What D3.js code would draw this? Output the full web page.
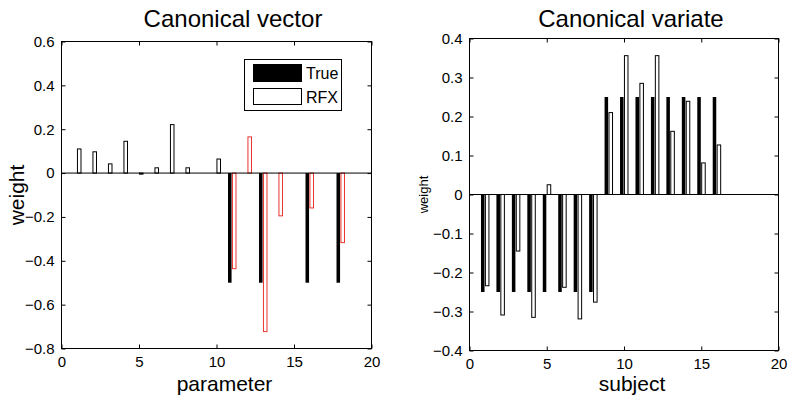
<!DOCTYPE html>
<html>
<head>
<meta charset="utf-8">
<script src="https://cdn.jsdelivr.net/npm/d3@7"></script>
<style>
  html, body { margin: 0; padding: 0; background: #fff; }
  svg { display: block; }
  text { font-family: "Liberation Sans", Arial, Helvetica, sans-serif; fill: #000; }
</style>
</head>
<body>
<svg id="chart" width="792" height="402"></svg>
<script>
// ---------- Data ----------
const parameters = [1,2,3,4,5,6,7,8,9,10,11,12,13,14,15,16,17,18];
const trueVector = [0,0,0,0,0,0,0,0,0,0,-0.5,0,-0.5,0,0,-0.5,0,-0.5];
const rfxVector  = [0.11,0.097,0.042,0.145,-0.005,0.024,0.221,0.024,0,0.064,-0.436,0.165,-0.723,-0.195,0,-0.159,0,-0.317];

const subjects = [1,2,3,4,5,6,7,8,9,10,11,12,13,14,15,16];
const trueVariate = [-0.25,-0.25,-0.25,-0.25,-0.25,-0.25,-0.25,-0.25,0.25,0.25,0.25,0.25,0.25,0.25,0.25,0.25];
const rfxVariate  = [-0.234,-0.309,-0.145,-0.315,0.025,-0.238,-0.319,-0.276,0.21,0.356,0.285,0.356,0.162,0.239,0.081,0.127];

const xTicks = [0,5,10,15,20];
const yTicksLeft = [-0.8,-0.6,-0.4,-0.2,0,0.2,0.4,0.6];
const yTicksRight = [-0.4,-0.3,-0.2,-0.1,0,0.1,0.2,0.3,0.4];
const legendLabels = ["True","RFX"];
const titles = ["Canonical vector","Canonical variate"];
const xLabels = ["parameter","subject"];

// ---------- Drawing ----------
const svg = d3.select("#chart");
const BAR_OFF = 0.143, BAR_W = 0.229, TICK = 4;

function panel(opts) {
  const x = d3.scaleLinear().domain([0,20]).range([opts.x0, opts.x1]);
  const y = d3.scaleLinear().domain(opts.ydom).range([opts.y1, opts.y0]);
  const g = svg.append("g");

  // bars
  const data = opts.cats.map((c,i) => ({c, t: opts.tv[i], r: opts.rv[i]}));
  const bw = x(BAR_W) - x(0);
  g.selectAll("rect.true").data(data.filter(d => d.t !== 0)).join("rect")
    .attr("x", d => x(d.c - BAR_OFF) - bw/2)
    .attr("y", d => y(Math.max(0,d.t)))
    .attr("width", bw)
    .attr("height", d => Math.abs(y(d.t) - y(0)))
    .attr("fill", "#000");
  g.selectAll("rect.rfx").data(data.filter(d => d.r !== 0)).join("rect")
    .attr("x", d => x(d.c + BAR_OFF) - bw/2)
    .attr("y", d => y(Math.max(0,d.r)))
    .attr("width", bw)
    .attr("height", d => Math.max(0.8, Math.abs(y(d.r) - y(0))))
    .attr("fill", "#fff")
    .attr("stroke", d => opts.rfxColor(d))
    .attr("stroke-width", 1);

  // zero line
  g.append("line").attr("x1", opts.x0).attr("x2", opts.x1)
    .attr("y1", y(0)).attr("y2", y(0)).attr("stroke", "#000").attr("stroke-width", 1);

  // axes
  const fmt = d => (d === 0 ? "0" : d3.format("")(+d.toFixed(1)));
  const axB = d3.axisBottom(x).tickValues(xTicks).tickSizeInner(-TICK).tickSizeOuter(0).tickPadding(8);
  const axT = d3.axisTop(x).tickValues(xTicks).tickSizeInner(-TICK).tickSizeOuter(0).tickFormat("");
  const axL = d3.axisLeft(y).tickValues(opts.yticks).tickSizeInner(-TICK).tickSizeOuter(0).tickPadding(7).tickFormat(fmt);
  const axR = d3.axisRight(y).tickValues(opts.yticks).tickSizeInner(-TICK).tickSizeOuter(0).tickFormat("");
  const style = s => { s.select(".domain").remove(); s.selectAll("line").attr("stroke","#000");
    s.selectAll("text").attr("font-size", 15).attr("font-family", '"Liberation Sans", Arial, sans-serif').attr("fill","#000"); };
  g.append("g").attr("transform", `translate(0,${opts.y1})`).call(axB).call(style);
  g.append("g").attr("transform", `translate(0,${opts.y0})`).call(axT).call(style);
  g.append("g").attr("transform", `translate(${opts.x0},0)`).call(axL).call(style);
  g.append("g").attr("transform", `translate(${opts.x1},0)`).call(axR).call(style);

  // frame
  g.append("rect").attr("x", opts.x0).attr("y", opts.y0)
    .attr("width", opts.x1 - opts.x0).attr("height", opts.y1 - opts.y0)
    .attr("fill", "none").attr("stroke", "#000").attr("stroke-width", 1);

  // title & labels
  g.append("text").attr("x", opts.titleX).attr("y", 27).attr("text-anchor","middle")
    .attr("font-size", 24).text(opts.title);
  g.append("text").attr("x", (opts.x0+opts.x1)/2 + 8).attr("y", 391).attr("text-anchor","middle")
    .attr("font-size", 21).text(opts.xlabel);
  g.append("text").attr("transform", `translate(${opts.ylabX},${(opts.y0+opts.y1)/2}) rotate(-90)`)
    .attr("text-anchor","middle").attr("font-size", opts.ylabSize).text("weight");
  return {x, y, g};
}

const left = panel({
  x0: 61.5, x1: 371.5, y0: 41.5, y1: 348.5, ydom: [-0.8, 0.6],
  cats: parameters, tv: trueVector, rv: rfxVector, yticks: yTicksLeft,
  rfxColor: d => d.c > 10 ? "#e8362f" : "#000",
  title: titles[0], titleX: 233, xlabel: xLabels[0], ylabX: 24, ylabSize: 21
});
const right = panel({
  x0: 469.5, x1: 778.5, y0: 38.5, y1: 350.5, ydom: [-0.4, 0.4],
  cats: subjects, tv: trueVariate, rv: rfxVariate, yticks: yTicksRight,
  rfxColor: d => "#000",
  title: titles[1], titleX: 631, xlabel: xLabels[1], ylabX: 428, ylabSize: 13
});

// legend (left panel)
const lg = svg.append("g");
lg.append("rect").attr("x", 244.5).attr("y", 59.5).attr("width", 97).attr("height", 51)
  .attr("fill", "#fff").attr("stroke", "#000");
lg.append("rect").attr("x", 253.5).attr("y", 64.5).attr("width", 48).attr("height", 17)
  .attr("fill", "#000").attr("stroke", "#000");
lg.append("rect").attr("x", 253.5).attr("y", 88.5).attr("width", 48).attr("height", 16)
  .attr("fill", "#fff").attr("stroke", "#000");
lg.append("text").attr("x", 306).attr("y", 79).attr("font-size", 16).text(legendLabels[0]);
lg.append("text").attr("x", 306).attr("y", 103).attr("font-size", 16).text(legendLabels[1]);
</script>
</body>
</html>
